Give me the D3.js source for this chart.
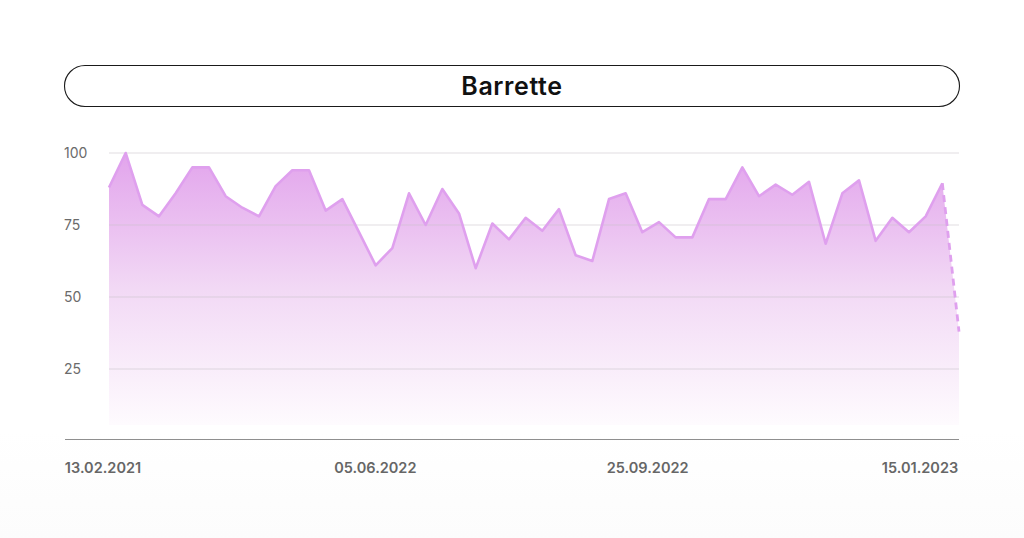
<!DOCTYPE html>
<html>
<head>
<meta charset="utf-8">
<script src="https://cdn.jsdelivr.net/npm/d3@7"></script>
<style>
  html, body { margin: 0; padding: 0; background: #ffffff; }
  svg { display: block; }
</style>
</head>
<body>
<svg id="chart" width="1024" height="538"></svg>
<script>
// ---- data ----
const title = "Barrette";
const values = [88, 100, 82, 78, 86, 95, 95, 85, 81, 78, 88.5, 94, 94, 80, 84, 72.5,
  61, 67, 86, 75, 87.5, 79, 60, 75.5, 70, 77.5, 73, 80.5, 64.5, 62.5, 84, 86,
  72.5, 76, 70.7, 70.7, 84, 84, 95, 85, 89, 85.5, 90, 68.5, 86, 90.5, 69.5, 77.5,
  72.5, 78, 89.5, 38];
const forecastFrom = 50; // last segment drawn dashed
const xTickLabels = ["13.02.2021", "05.06.2022", "25.09.2022", "15.01.2023"];
const yTicks = [25, 50, 75, 100];

// ---- layout ----
const svg = d3.select("#chart");
const W = 1024, H = 538;
const plotLeft = 65, plotRight = 959, dataLeft = 109;
const yTop = 153, yZero = 441;

// subtle background fade at bottom
const defs = svg.append("defs");
const bg = defs.append("linearGradient").attr("id", "bg").attr("x1", 0).attr("x2", 0).attr("y1", 0).attr("y2", 1);
bg.append("stop").attr("offset", "0.8").attr("stop-color", "#ffffff");
bg.append("stop").attr("offset", "1").attr("stop-color", "#fcfcfc");
svg.append("rect").attr("width", W).attr("height", H).attr("fill", "url(#bg)");

// title pill
svg.append("rect")
  .attr("x", 64.5).attr("y", 65.5).attr("width", 895).attr("height", 41)
  .attr("rx", 20.5).attr("ry", 20.5)
  .attr("fill", "#ffffff").attr("stroke", "#1a1a1a").attr("stroke-width", 1.1);
svg.append("text")
  .attr("x", 512).attr("y", 94.5)
  .attr("text-anchor", "middle")
  .attr("font-family", "Inter, 'Open Sans', sans-serif")
  .attr("font-weight", 600).attr("font-size", 25)
  .attr("letter-spacing", 0.6)
  .attr("fill", "#111111")
  .text(title);

// scales
const x = d3.scalePoint().domain(d3.range(values.length)).range([dataLeft, plotRight]);
const y = d3.scaleLinear().domain([0, 100]).range([yZero, yTop]);

// area gradient
const ag = defs.append("linearGradient").attr("id", "areaGrad")
  .attr("gradientUnits", "userSpaceOnUse")
  .attr("x1", 0).attr("x2", 0).attr("y1", y(100)).attr("y2", 425);
ag.append("stop").attr("offset", "0").attr("stop-color", "#e2a4ec");
ag.append("stop").attr("offset", "0.5").attr("stop-color", "#f2d9f5");
ag.append("stop").attr("offset", "1").attr("stop-color", "#fefbfe");

const area = d3.area().x((d, i) => x(i)).y0(y(0) - 16).y1(d => y(d));
svg.append("path").datum(values).attr("d", area).attr("fill", "url(#areaGrad)");

// gridlines (visible through the fill)
svg.append("g").selectAll("line").data(yTicks).join("line")
  .attr("x1", dataLeft).attr("x2", plotRight)
  .attr("y1", d => y(d)).attr("y2", d => y(d))
  .attr("stroke", "#c9c3c9").attr("stroke-opacity", 0.55).attr("stroke-width", 1);

// y labels
svg.append("g").selectAll("text").data(yTicks).join("text")
  .attr("x", 64).attr("y", d => y(d) + 5)
  .attr("text-anchor", "start")
  .attr("font-family", "Inter, 'Open Sans', sans-serif")
  .attr("font-size", 14).attr("fill", "#6b6b6b")
  .text(d => d);

// line (solid part)
const line = d3.line().x(d => x(d.i)).y(d => y(d.v));
const pts = values.map((v, i) => ({ i, v }));
svg.append("path").datum(pts.slice(0, forecastFrom + 1)).attr("d", line)
  .attr("fill", "none").attr("stroke", "#dfa0ee").attr("stroke-width", 2.6)
  .attr("stroke-linejoin", "round");
svg.append("path").datum(pts.slice(forecastFrom)).attr("d", line)
  .attr("fill", "none").attr("stroke", "#dfa0ee").attr("stroke-width", 2.8)
  .attr("stroke-dasharray", "7,5");

// x axis line
svg.append("line").attr("x1", plotLeft).attr("x2", plotRight)
  .attr("y1", 439.5).attr("y2", 439.5)
  .attr("stroke", "#8f8f8f").attr("stroke-width", 1.2);

// x labels
const xl = d3.scalePoint().domain(xTickLabels).range([plotLeft + 38, plotRight - 39]);
svg.append("g").selectAll("text").data(xTickLabels).join("text")
  .attr("x", d => xl(d)).attr("y", 473)
  .attr("text-anchor", "middle")
  .attr("font-family", "Inter, 'Open Sans', sans-serif")
  .attr("font-weight", 600).attr("font-size", 14.5)
  .attr("fill", "#666666")
  .text(d => d);
</script>
</body>
</html>
